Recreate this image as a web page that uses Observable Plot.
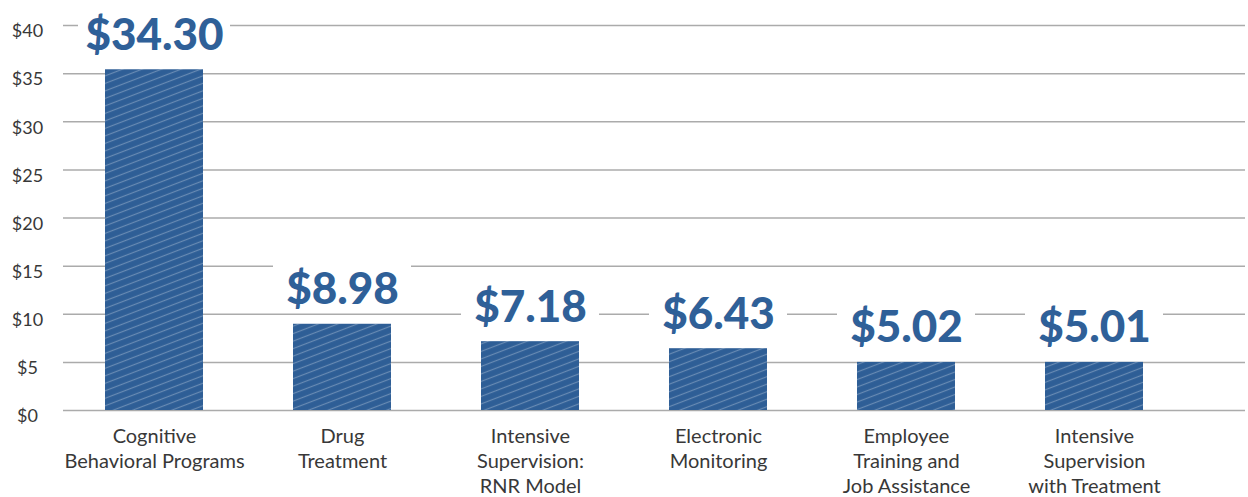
<!DOCTYPE html>
<html>
<head>
<meta charset="utf-8">
<script src="https://cdn.jsdelivr.net/npm/d3@7"></script>
<script src="https://cdn.jsdelivr.net/npm/@observablehq/plot@0.6"></script>
<style>
  html, body { margin: 0; padding: 0; background: #fff; }
  #chart svg { display: block; }
</style>
</head>
<body>
<div id="chart"></div>
<script>
const categories = [
  "Cognitive\nBehavioral Programs",
  "Drug\nTreatment",
  "Intensive\nSupervision:\nRNR Model",
  "Electronic\nMonitoring",
  "Employee\nTraining and\nJob Assistance",
  "Intensive\nSupervision\nwith Treatment"
];
const barValues = [35.4, 8.96, 7.15, 6.42, 5.0, 5.0];
const valueLabels = ["$34.30", "$8.98", "$7.18", "$6.43", "$5.02", "$5.01"];
const yTicks = [0, 5, 10, 15, 20, 25, 30, 35, 40];

const data = categories.map((c, i) => ({category: c, value: barValues[i], label: valueLabels[i]}));

const height = 497, marginTop = 25, marginBottom = 87;
const pxPerUnit = (height - marginTop - marginBottom) / 40;
const boxBottom = 15 / pxPerUnit, boxTop = 67 / pxPerUnit;

const hatchDefs = () => {
  const g = d3.create("svg:g");
  const p = g.append("defs").append("pattern")
    .attr("id", "hatch")
    .attr("patternUnits", "userSpaceOnUse")
    .attr("width", 7).attr("height", 7)
    .attr("patternTransform", "rotate(-21)");
  p.append("line").attr("x1", 0).attr("x2", 7).attr("y1", 3.5).attr("y2", 3.5)
    .attr("stroke", "#ffffff").attr("stroke-opacity", 0.28).attr("stroke-width", 1.2);
  return g.node();
};

const plot = Plot.plot({
  width: 1248,
  height,
  marginTop,
  marginBottom,
  marginLeft: 63,
  marginRight: 3,
  style: {fontFamily: "Lato, 'Open Sans', sans-serif", color: "#383838", background: "#fff"},
  x: {domain: categories, range: [12.9, 1235.4], padding: 0.48, label: null},
  y: {domain: [0, 40], label: null},
  marks: [
    hatchDefs,
    Plot.ruleY(yTicks, {stroke: "#ababab", strokeWidth: 1.5}),
    Plot.barY(data.filter(d => d.label.length === 6), {x: "category", y1: d => d.value + boxBottom, y2: d => d.value + boxTop, fill: "#fff", insetLeft: -27, insetRight: -27}),
    Plot.barY(data.filter(d => d.label.length === 5), {x: "category", y1: d => d.value + boxBottom, y2: d => d.value + boxTop, fill: "#fff", insetLeft: -20, insetRight: -20}),
    Plot.barY(data, {x: "category", y: "value", fill: "#2e5e96"}),
    Plot.barY(data, {x: "category", y: "value", fill: "url(#hatch)"}),
    Plot.text(data, {x: "category", y: "value", text: "label", lineAnchor: "bottom", dy: -20, fontSize: 44, fontWeight: 900, fill: "#2f6098"}),
    Plot.axisY(yTicks, {tickSize: 0, tickPadding: 36, textAnchor: "middle", dy: 6, fontSize: 18, tickFormat: d => "$" + d, label: null}),
    Plot.axisX({tickSize: 0, tickPadding: 15, fontSize: 20, lineHeight: 1.25, label: null})
  ]
});
document.getElementById("chart").appendChild(plot);
</script>
</body>
</html>
